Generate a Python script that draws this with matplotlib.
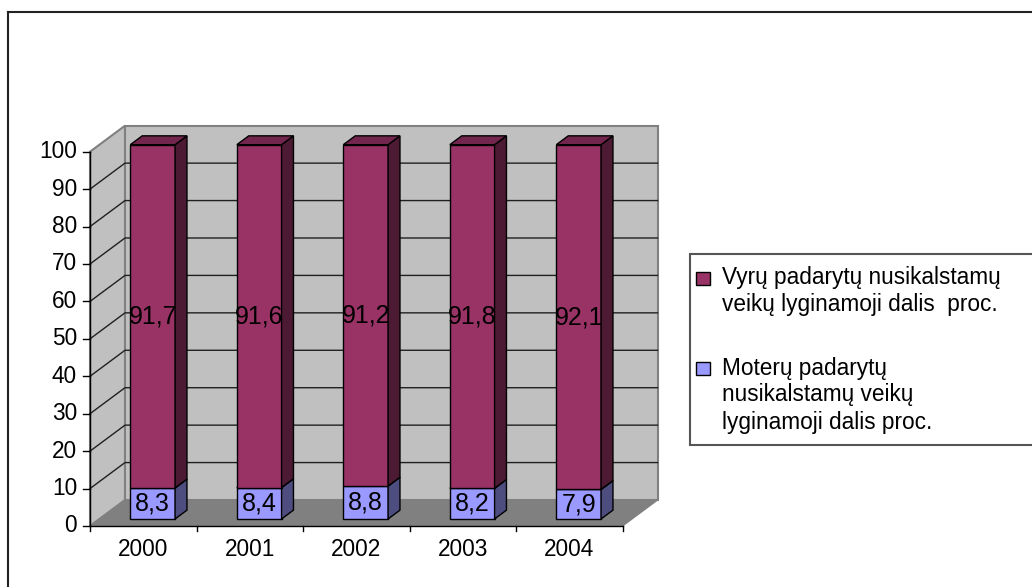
import matplotlib.pyplot as plt
from matplotlib.patches import Polygon, Rectangle
from matplotlib.transforms import Affine2D

plt.rcParams['font.family'] = ['Liberation Sans', 'DejaVu Sans']

years = ['2000', '2001', '2002', '2003', '2004']
men = [91.7, 91.6, 91.2, 91.8, 92.1]
women = [8.3, 8.4, 8.8, 8.2, 7.9]
men_label = 'Vyrų padarytų nusikalstamų\nveikų lyginamoji dalis  proc.'
women_label = 'Moterų padarytų\nnusikalstamų veikų\nlyginamoji dalis proc.'
yticks = list(range(0, 101, 10))

W, H = 1032, 587
FS = 16.3       # axis + legend text
LFS = 18        # value labels in bars

# depth of the 3d box in data units (front plane -> back wall)
DX = 35 / 106.5
DY = 26 / 3.743
F1, F2 = 0.27, 0.61   # bar front / back as fraction of depth
BW = 0.42             # bar width in category units

MEN_C = ('#993366', '#4d1a33', '#73264d')
WOM_C = ('#9999ff', '#4d4d80', '#7373bf')


def fmt(v):
    return '{:.1f}'.format(v).replace('.', ',')


def p(x, y, f):
    return (x + f * DX, y + f * DY)


def poly(ax, pts, fc, ec='black', lw=1.0, z=2):
    ax.add_patch(Polygon(pts, closed=True, facecolor=fc, edgecolor=ec,
                         linewidth=lw, clip_on=False, zorder=z))


def box(ax, x0, x1, y0, y1, colors, z):
    front, side, top = colors
    poly(ax, [p(x0, y0, F1), p(x1, y0, F1), p(x1, y1, F1), p(x0, y1, F1)], front, z=z)
    poly(ax, [p(x1, y0, F1), p(x1, y0, F2), p(x1, y1, F2), p(x1, y1, F1)], side, z=z)
    poly(ax, [p(x0, y1, F1), p(x1, y1, F1), p(x1, y1, F2), p(x0, y1, F2)], top, z=z)


fig = plt.figure(figsize=(W / 100, H / 100), dpi=100)
px = Affine2D().scale(1 / W, -1 / H).translate(0, 1) + fig.transFigure

ax = fig.add_axes([90 / W, (H - 526) / H, 532.5 / W, 374.3 / H])
n = len(years)
ax.set_xlim(0, n)
ax.set_ylim(0, 100)
ax.axis('off')

# walls and floor
poly(ax, [(0, 0), (DX, DY), (DX, 100 + DY), (0, 100)], '#c0c0c0', ec='#808080', lw=1.5, z=0)
poly(ax, [(DX, DY), (n + DX, DY), (n + DX, 100 + DY), (DX, 100 + DY)], '#c0c0c0', ec='#808080', lw=1.5, z=0)
poly(ax, [(0, 0), (n, 0), (n + DX, DY), (DX, DY)], '#808080', ec='#808080', lw=1.0, z=0)

# gridlines
for t in yticks[1:-1]:
    ax.plot([0, DX, n + DX], [t, t + DY, t + DY], color='#202020', lw=1.0,
            clip_on=False, zorder=1)

# axes lines and ticks
ax.plot([0, 0], [0, 100], color='black', lw=1.0, clip_on=False, zorder=3)
ax.plot([0, n], [0, 0], color='black', lw=1.0, clip_on=False, zorder=3)
for t in yticks:
    ax.plot([-7 / 106.5, 0], [t, t], color='black', lw=1.0, clip_on=False, zorder=3)
    ax.text(-13 / 106.5, t, str(t), ha='right', va='center', fontsize=FS)
for i in range(n + 1):
    ax.plot([i, i], [0, -5 / 3.743], color='black', lw=1.0, clip_on=False, zorder=3)
for i, yr in enumerate(years):
    ax.text(i + 0.5, -23 / 3.743, yr, ha='center', va='center', fontsize=FS)

# bars
for i in range(n):
    x0 = i + 0.5 - BW / 2
    x1 = i + 0.5 + BW / 2
    w = women[i]
    top = women[i] + men[i]
    box(ax, x0, x1, 0, w, WOM_C, 4 + 2 * i)
    box(ax, x0, x1, w, top, MEN_C, 5 + 2 * i)
    cx, _ = p(i + 0.5, 0, F1)
    ax.text(cx, w / 2 + F1 * DY, fmt(w), ha='center', va='center',
            fontsize=LFS, zorder=20)
    ax.text(cx, (w + top) / 2 + F1 * DY, fmt(men[i]), ha='center', va='center',
            fontsize=LFS, zorder=20)

# outer chart frame (cropped on right and bottom)
fig.add_artist(plt.Line2D([8, W + 5], [12, 12], transform=px, color='#222222', lw=1.5))
fig.add_artist(plt.Line2D([8, 8], [12, H + 5], transform=px, color='#222222', lw=1.5))

# legend
fig.add_artist(Rectangle((690, 254), 400, 191, transform=px, facecolor='white',
                         edgecolor='#555555', lw=1.5))
entries = [(men_label, MEN_C[0], 278), (women_label, WOM_C[0], 368)]
for label, color, yc in entries:
    fig.add_artist(Rectangle((696, yc - 6.5), 14, 13, transform=px,
                             facecolor=color, edgecolor='black', lw=1.0))
    for j, line in enumerate(label.split('\n')):
        fig.text(722 / W, 1 - (yc + 27 * j) / H, line, ha='left', va='center',
                 fontsize=FS)

fig.savefig('out.png', dpi=100)
